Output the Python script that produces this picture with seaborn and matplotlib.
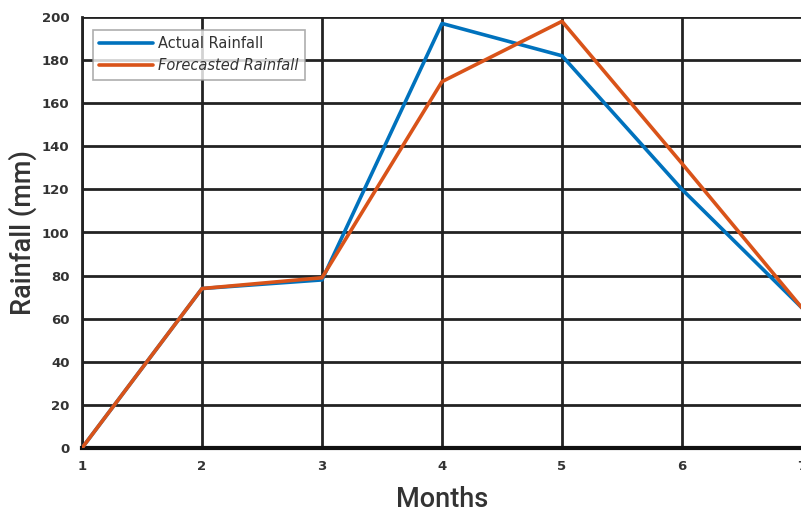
import matplotlib
matplotlib.use("Agg")
import matplotlib.pyplot as plt
import pandas as pd
import seaborn as sns

months = [1, 2, 3, 4, 5, 6, 7]
actual_rainfall = [0, 74, 78, 197, 182, 120, 65]
forecasted_rainfall = [0, 74, 79, 170, 198, 132, 65]
y_ticks = [0, 20, 40, 60, 80, 100, 120, 140, 160, 180, 200]

df = pd.DataFrame({
    "Months": months * 2,
    "Rainfall": actual_rainfall + forecasted_rainfall,
    "Series": ["Actual Rainfall"] * len(months) + ["Forecasted Rainfall"] * len(months),
})

sns.set_style("white")
plt.rcParams["font.family"] = ["DejaVu Sans"]

fig = plt.figure(figsize=(8.01, 5.15), dpi=100)
ax = fig.add_axes([82 / 801, 1 - 448 / 515, 720 / 801, 431 / 515])

sns.lineplot(data=df, x="Months", y="Rainfall", hue="Series",
             palette=["#0072BD", "#D95319"], linewidth=2.6, ax=ax,
             zorder=3)

ax.set_xlim(1, 7)
ax.set_ylim(0, 200)
ax.set_xticks(months)
ax.set_yticks(y_ticks)
ax.grid(True, color="#222222", linewidth=2.0, zorder=1)
ax.set_axisbelow(True)
for side in ["top", "right"]:
    ax.spines[side].set_visible(False)
ax.spines["left"].set_color("#222222")
ax.spines["left"].set_linewidth(2.0)
ax.spines["bottom"].set_color("#111111")
ax.spines["bottom"].set_linewidth(3.0)

ax.tick_params(axis="both", which="both", length=3, width=1.5, color="#222222",
               labelsize=9.5, pad=6)
for lab in ax.get_xticklabels() + ax.get_yticklabels():
    lab.set_fontweight("bold")
    lab.set_color("#333333")

label_font = dict(fontsize=19.5, color="#333333", fontweight="medium",
                  family=["Roboto", "DejaVu Sans"])
ax.set_xlabel("Months", labelpad=9, **label_font)
ax.set_ylabel("Rainfall (mm)", labelpad=3.5, **label_font)

leg = ax.legend(loc="upper left", bbox_to_anchor=(0.015, 0.97), frameon=True,
                fancybox=False, fontsize=10.5, handlelength=3.7,
                borderpad=0.45, labelspacing=0.45, handletextpad=0.3,
                borderaxespad=0.0)
leg.get_frame().set_edgecolor("#999999")
leg.get_frame().set_linewidth(1.2)
for t in leg.get_texts():
    t.set_color("#333333")
leg.get_texts()[1].set_fontstyle("italic")

fig.savefig("out.png", dpi=100)
